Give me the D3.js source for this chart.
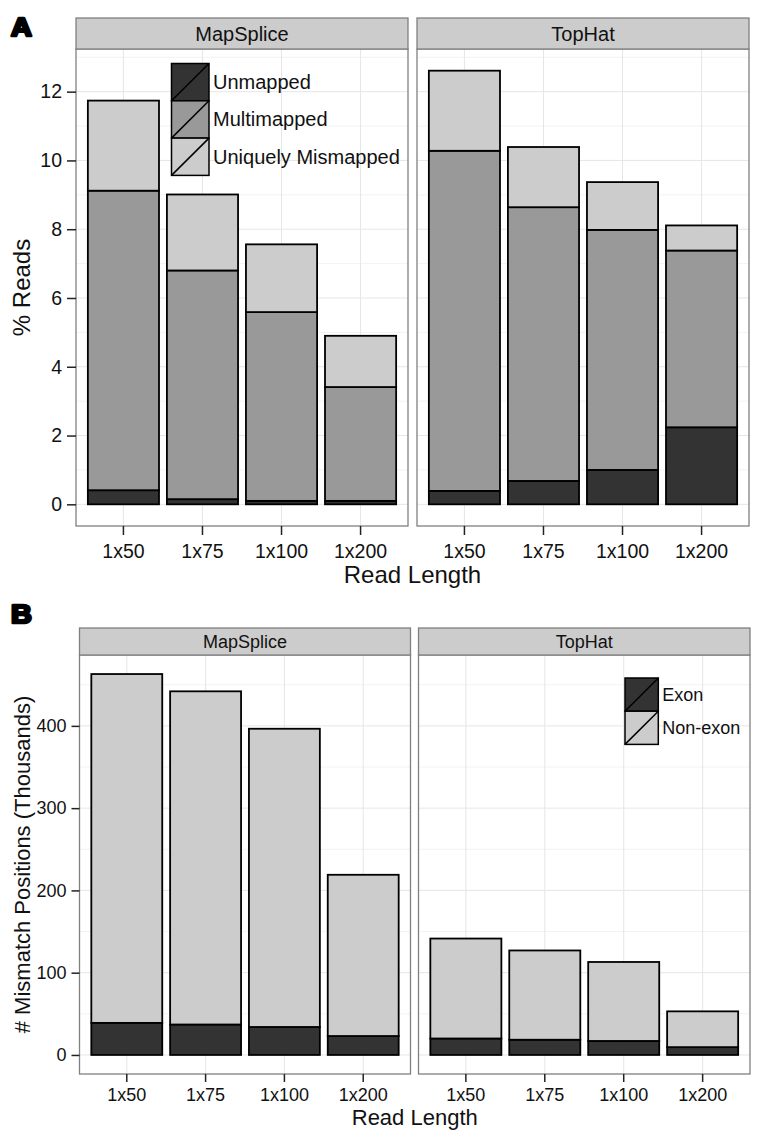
<!DOCTYPE html>
<html><head><meta charset="utf-8">
<script src="https://cdn.jsdelivr.net/npm/d3@7"></script>
<style>
body{margin:0;background:#fff}
svg{display:block;font-family:"Liberation Sans",Arial,Helvetica,sans-serif}
</style>
</head><body>
<svg id="chart" width="760" height="1137"></svg>
<script>
// ---------- data ----------
const readLengths = ["1x50", "1x75", "1x100", "1x200"];
const facets = ["MapSplice", "TopHat"];

// Panel A: % reads (stacked components)
const readClasses = ["Unmapped", "Multimapped", "Uniquely Mismapped"];
const mapspliceUnmapped   = [0.41, 0.15, 0.10, 0.10];
const mapspliceMultimapped = [8.71, 6.65, 5.49, 3.31];
const mapspliceMismapped  = [2.62, 2.21, 1.97, 1.49];
const tophatUnmapped      = [0.39, 0.68, 1.00, 2.24];
const tophatMultimapped   = [9.89, 7.96, 6.98, 5.14];
const tophatMismapped     = [2.33, 1.75, 1.39, 0.73];
const readTicks = [0, 2, 4, 6, 8, 10, 12];
const readMinor = [1, 3, 5, 7, 9, 11, 13];

// Panel B: mismatch positions (thousands)
const positionClasses = ["Exon", "Non-exon"];
const mapspliceExon    = [39, 37, 34, 23];
const mapspliceNonExon = [424, 405, 362.5, 196];
const tophatExon       = [20, 18.5, 17, 9.5];
const tophatNonExon    = [121.5, 108.5, 96, 43.5];
const mismatchTicks = [0, 100, 200, 300, 400];
const mismatchMinor = [50, 150, 250, 350, 450];

const readFills = ["#333333", "#999999", "#cccccc"];
const positionFills = ["#333333", "#cccccc"];

// ---------- drawing ----------
const svg = d3.select("#chart");

function toRows(arrays, keys) {
  return readLengths.map((rl, i) => {
    const r = {len: rl};
    keys.forEach((k, j) => r[k] = arrays[j][i]);
    return r;
  });
}

function drawRow(cfg) {
  const stacks = {};
  let maxTotal = 0;
  facets.forEach(f => {
    const rows = toRows(cfg.series[f], cfg.keys);
    stacks[f] = d3.stack().keys(cfg.keys)(rows);
    const top = d3.max(stacks[f][stacks[f].length - 1], d => d[1]);
    maxTotal = Math.max(maxTotal, top);
  });
  const pad = maxTotal * 0.05;
  const y = d3.scaleLinear().domain([-pad, maxTotal + pad]).range([cfg.plotBottom, cfg.plotTop]);
  const color = d3.scaleOrdinal().domain(cfg.keys).range(cfg.fills);

  facets.forEach((f, fi) => {
    const [x0, x1] = cfg.panels[fi];
    const x = d3.scaleBand().domain(readLengths).range([x0, x1])
      .paddingInner(0.1).paddingOuter(0.15).align(0.5);
    const g = svg.append("g");

    g.append("rect").attr("x", x0).attr("y", cfg.plotTop)
      .attr("width", x1 - x0).attr("height", cfg.plotBottom - cfg.plotTop)
      .attr("fill", "#fff");

    // minor grid
    g.selectAll(".minor").data(cfg.minor.filter(v => y(v) > cfg.plotTop && y(v) < cfg.plotBottom))
      .join("line")
      .attr("x1", x0).attr("x2", x1)
      .attr("y1", d => y(d)).attr("y2", d => y(d))
      .attr("stroke", "#f3f3f3").attr("stroke-width", 1);
    // major grid
    g.selectAll(".major").data(cfg.ticks).join("line")
      .attr("x1", x0).attr("x2", x1)
      .attr("y1", d => y(d)).attr("y2", d => y(d))
      .attr("stroke", "#e6e6e6").attr("stroke-width", 1);
    g.selectAll(".vmajor").data(readLengths).join("line")
      .attr("x1", d => x(d) + x.bandwidth() / 2).attr("x2", d => x(d) + x.bandwidth() / 2)
      .attr("y1", cfg.plotTop).attr("y2", cfg.plotBottom)
      .attr("stroke", "#e6e6e6").attr("stroke-width", 1);

    // bars
    stacks[f].forEach(layer => {
      g.append("g").selectAll("rect").data(layer).join("rect")
        .attr("x", d => x(d.data.len))
        .attr("width", x.bandwidth())
        .attr("y", d => y(d[1]))
        .attr("height", d => Math.max(0, y(d[0]) - y(d[1])))
        .attr("fill", color(layer.key))
        .attr("stroke", "#000").attr("stroke-width", 1.8);
    });

    // panel border
    g.append("rect").attr("x", x0).attr("y", cfg.plotTop)
      .attr("width", x1 - x0).attr("height", cfg.plotBottom - cfg.plotTop)
      .attr("fill", "none").attr("stroke", "#808080").attr("stroke-width", 1.3);

    // strip
    g.append("rect").attr("x", x0).attr("y", cfg.stripTop)
      .attr("width", x1 - x0).attr("height", cfg.plotTop - cfg.stripTop)
      .attr("fill", "#cccccc").attr("stroke", "#808080").attr("stroke-width", 1.3);
    g.append("text").attr("x", (x0 + x1) / 2).attr("y", (cfg.stripTop + cfg.plotTop) / 2)
      .attr("dy", "0.35em").attr("text-anchor", "middle")
      .attr("font-size", cfg.stripSize).attr("fill", "#111").text(f);

    // x axis
    const xa = g.append("g").attr("transform", `translate(0,${cfg.plotBottom})`)
      .call(d3.axisBottom(x).tickSize(cfg.tickLen).tickPadding(cfg.xPad));
    xa.select(".domain").remove();
    xa.selectAll("line").attr("stroke", "#222").attr("stroke-width", 1.5);
    xa.selectAll("text").attr("font-size", cfg.tickSize).attr("fill", "#111")
      .attr("font-family", "Liberation Sans, Arial, sans-serif");

    // y axis (left panel only)
    if (fi === 0) {
      const ya = g.append("g").attr("transform", `translate(${x0},0)`)
        .call(d3.axisLeft(y).tickValues(cfg.ticks).tickSize(cfg.tickLen).tickPadding(5));
      ya.select(".domain").remove();
      ya.selectAll("line").attr("stroke", "#222").attr("stroke-width", 1.5);
      ya.selectAll("text").attr("font-size", cfg.tickSize).attr("fill", "#111")
        .attr("font-family", "Liberation Sans, Arial, sans-serif");
    }

    // legend
    if (fi === cfg.legend.panel) {
      const L = cfg.legend;
      const lg = g.append("g");
      cfg.keys.forEach((k, i) => {
        const ky = L.y + i * L.key;
        lg.append("rect").attr("x", L.x).attr("y", ky).attr("width", L.keyW).attr("height", L.key)
          .attr("fill", color(k)).attr("stroke", "#000").attr("stroke-width", 1.5);
        lg.append("line").attr("x1", L.x).attr("y1", ky + L.key).attr("x2", L.x + L.keyW).attr("y2", ky)
          .attr("stroke", "#000").attr("stroke-width", 1.5);
        lg.append("text").attr("x", L.x + L.keyW + 4).attr("y", ky + L.key / 2).attr("dy", "0.35em")
          .attr("font-size", L.size).attr("fill", "#111").text(k);
      });
    }
  });

  // axis titles
  const cx = (cfg.panels[0][0] + cfg.panels[1][1]) / 2;
  svg.append("text").attr("x", cx).attr("y", cfg.xTitleY).attr("text-anchor", "middle")
    .attr("font-size", cfg.titleSize).attr("fill", "#111").text("Read Length");
  svg.append("text")
    .attr("transform", `translate(${cfg.yTitleX},${(cfg.plotTop + cfg.plotBottom) / 2}) rotate(-90)`)
    .attr("text-anchor", "middle").attr("dy", "0.35em")
    .attr("font-size", cfg.titleSize).attr("fill", "#111").text(cfg.yTitle);

  // panel letter
  svg.append("text").attr("x", cfg.letterX).attr("y", cfg.letterY)
    .attr("font-size", 25).attr("font-weight", "bold")
    .attr("fill", "#000").attr("stroke", "#000").attr("stroke-width", 2.6)
    .attr("stroke-linejoin", "round")
    .attr("transform", `translate(${cfg.letterX},0) scale(1.15,1) translate(${-cfg.letterX},0)`)
    .text(cfg.letter);
}

drawRow({
  letter: "A", letterX: 11, letterY: 36,
  keys: readClasses, fills: readFills,
  series: {
    MapSplice: [mapspliceUnmapped, mapspliceMultimapped, mapspliceMismapped],
    TopHat: [tophatUnmapped, tophatMultimapped, tophatMismapped]
  },
  panels: [[76, 408], [417, 749]],
  stripTop: 18, plotTop: 49, plotBottom: 526,
  ticks: readTicks, minor: readMinor,
  tickLen: 9, xPad: 9, tickSize: 19.5, stripSize: 20, titleSize: 24,
  xTitleY: 583, yTitleX: 22, yTitle: "% Reads",
  legend: {panel: 0, x: 171.5, y: 63.5, key: 37.3, keyW: 37.5, size: 20}
});

drawRow({
  letter: "B", letterX: 11, letterY: 623,
  keys: positionClasses, fills: positionFills,
  series: {
    MapSplice: [mapspliceExon, mapspliceNonExon],
    TopHat: [tophatExon, tophatNonExon]
  },
  panels: [[79.5, 410.5], [418.5, 750]],
  stripTop: 628, plotTop: 655, plotBottom: 1074,
  ticks: mismatchTicks, minor: mismatchMinor,
  tickLen: 8, xPad: 6, tickSize: 18, stripSize: 18, titleSize: 22,
  xTitleY: 1125, yTitleX: 22, yTitle: "# Mismatch Positions (Thousands)",
  legend: {panel: 1, x: 625, y: 678, key: 33.2, keyW: 33.3, size: 18}
});
</script>
</body></html>
